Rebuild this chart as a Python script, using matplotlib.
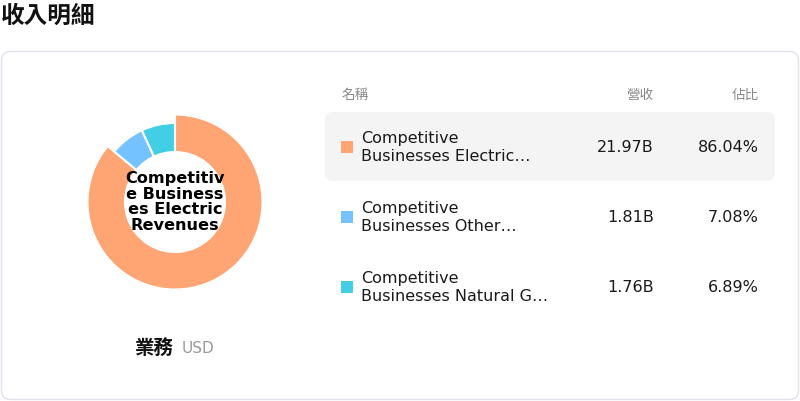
import matplotlib
matplotlib.use("Agg")
import matplotlib.pyplot as plt
from matplotlib.patches import FancyBboxPatch, Rectangle

# ---- data ----
title = "收入明細"
segment_label = "業務"
currency = "USD"
col_headers = ["名稱", "營收", "佔比"]
names_full = ["Competitive Businesses Electric Revenues",
              "Competitive Businesses Other Revenues",
              "Competitive Businesses Natural Gas Revenues"]
names_display = ["Competitive\nBusinesses Electric…",
                 "Competitive\nBusinesses Other…",
                 "Competitive\nBusinesses Natural G…"]
revenues = ["21.97B", "1.81B", "1.76B"]
shares = [86.04, 7.08, 6.89]
colors = ["#FFA574", "#74C2FF", "#42CFE6"]
center_text = "Competitiv\ne Business\nes Electric\nRevenues"

CJK = ["Noto Sans CJK TC", "DejaVu Sans"]
plt.rcParams["font.family"] = ["DejaVu Sans", "Noto Sans CJK TC"]

W, H = 800, 402
fig = plt.figure(figsize=(W / 100, H / 100), dpi=100)
bg = fig.add_axes([0, 0, 1, 1])
bg.set_xlim(0, W)
bg.set_ylim(H, 0)
bg.axis("off")

# title
bg.text(1, 16, title, fontsize=17, fontweight="bold", family=CJK,
        va="center", ha="left", color="#111111")

# card
card = FancyBboxPatch((1.5, 52.5), 797, 348, boxstyle="round,pad=0,rounding_size=9",
                      facecolor="white", edgecolor="#E2E0EA", linewidth=1.0)
bg.add_patch(card)

# highlighted row
hl = FancyBboxPatch((325, 113), 450, 69, boxstyle="round,pad=0,rounding_size=8",
                    facecolor="#F4F4F4", edgecolor="none")
bg.add_patch(hl)

# headers
bg.text(342, 95, col_headers[0], fontsize=9.8, color="#888888", family=CJK,
        ha="left", va="center")
bg.text(654, 95, col_headers[1], fontsize=9.8, color="#888888", family=CJK,
        ha="right", va="center")
bg.text(759, 95, col_headers[2], fontsize=9.8, color="#888888", family=CJK,
        ha="right", va="center")

row_y = [148, 218, 288]
for i, y in enumerate(row_y):
    bg.add_patch(Rectangle((341, y - 6), 12, 12, facecolor=colors[i], edgecolor="none"))
    bg.text(361, y, names_display[i], fontsize=11.5, color="#1a1a1a",
            ha="left", va="center", linespacing=1.25)
    bg.text(654, y, revenues[i], fontsize=11.5, color="#1a1a1a",
            ha="right", va="center")
    bg.text(759, y, f"{shares[i]:.2f}%", fontsize=11.5, color="#1a1a1a",
            ha="right", va="center")

# footer label
bg.text(135, 349, segment_label, fontsize=14, fontweight="bold", family=CJK,
        ha="left", va="center", color="#111111")
bg.text(182, 349, currency, fontsize=11, color="#999999", ha="left", va="center")

# donut
cx, cy, half = 175, 203, 100
pax = fig.add_axes([(cx - half) / W, 1 - (cy + half) / H, 2 * half / W, 2 * half / H])
wedges, _ = pax.pie(shares, colors=colors, startangle=90, counterclock=False,
                    radius=79, wedgeprops=dict(width=29, edgecolor="white", linewidth=1.5))
wedges[0].set_radius(87.5)
wedges[0].set_width(37.5)
pax.set_xlim(-half, half)
pax.set_ylim(-half, half)
pax.set_aspect("equal")
pax.axis("off")
pax.text(0, 1, center_text, fontsize=11.6, fontweight="bold", ha="center",
         va="center", linespacing=1.06, color="black")

fig.savefig("out.png", dpi=100)
